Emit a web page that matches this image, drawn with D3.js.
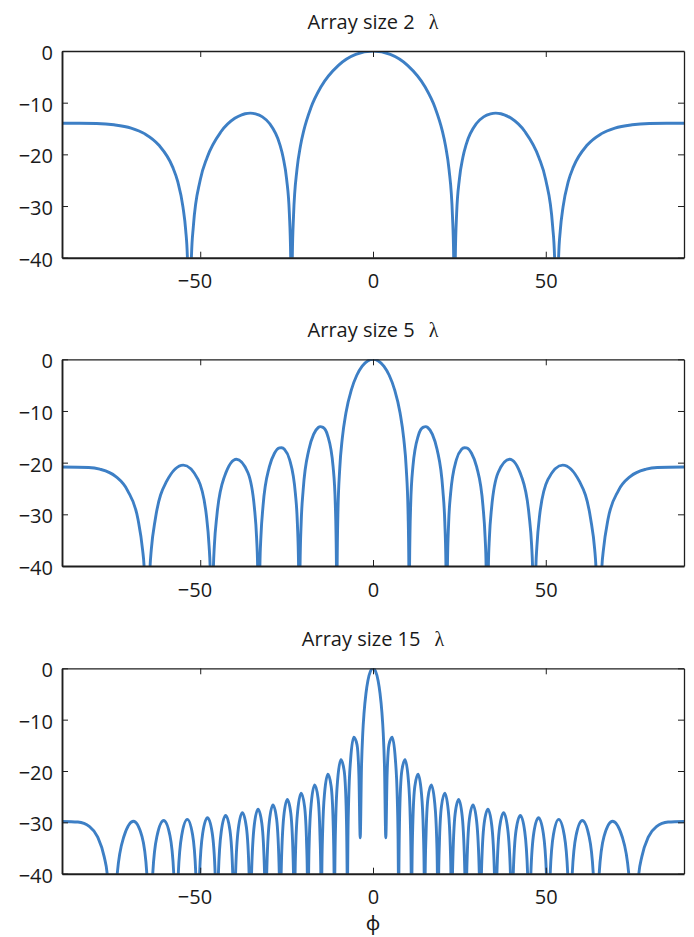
<!DOCTYPE html>
<html><head><meta charset="utf-8">
<script src="https://cdn.jsdelivr.net/npm/d3@7"></script>
<style>body{margin:0;background:#fff} svg{display:block}</style>
</head><body>
<svg id="c" width="694" height="937"></svg>
<script>
// ---------- data ----------
const titles = ["Array size 2", "Array size 5", "Array size 15"];
const titleUnit = "λ";
const xLabel = "ϕ";
const xTicks = [-50, 0, 50];
const yTicks = [0, -10, -20, -30, -40];

// [phi (deg), level (dB)]
const pattern2 = [
[-90,-13.98],[-85,-13.98],[-80,-14.03],[-75,-14.28],[-70,-14.91],[-66,-16.04],[-62,-18.2],[-58,-22.43],[-56.5,-25.28],[-55,-30.16],[-54.2,-34.7],[-53.71,-40],[-53.13,-60],[-52.55,-40],[-52,-34.02],[-50,-24.96],[-48,-20.59],[-44,-15.63],[-40,-13.03],[-38,-12.35],[-37,-12.14],[-35.5,-12.03],[-34,-12.16],[-32,-12.74],[-30,-13.98],[-27,-18.01],[-26,-20.61],[-25,-24.8],[-24.2,-31.5],[-23.82,-40],[-23.58,-60],[-23.35,-40],[-23,-31.95],[-22,-22.91],[-21,-18.39],[-20,-15.31],[-18,-11.03],[-15,-6.88],[-10,-2.78],[-5,-0.66],
[0,0],
[5,-0.66],[10,-2.78],[15,-6.88],[18,-11.03],[20,-15.31],[21,-18.39],[22,-22.91],[23,-31.95],[23.35,-40],[23.58,-60],[23.82,-40],[24.2,-31.5],[25,-24.8],[26,-20.61],[27,-18.01],[30,-13.98],[32,-12.74],[34,-12.16],[35.5,-12.03],[37,-12.14],[38,-12.35],[40,-13.03],[44,-15.63],[48,-20.59],[50,-24.96],[52,-34.02],[52.55,-40],[53.13,-60],[53.71,-40],[54.2,-34.7],[55,-30.16],[56.5,-25.28],[58,-22.43],[62,-18.2],[66,-16.04],[70,-14.91],[75,-14.28],[80,-14.03],[85,-13.98],[90,-13.98]
];

const pattern5 = [
[-90,-20.83],[-82.27,-20.93],[-79.06,-21.26],[-74.51,-22.65],[-71.02,-25.41],[-68.01,-30.97],[-66.68,-36.87],
[-66.25,-40],[-65.38,-60],[-64.51,-40],[-64.16,-36.83],[-62.99,-30.90],[-59.74,-23.64],[-54.90,-20.47],[-50.60,-23.27],[-48.20,-30.31],[-47.43,-36.18],
[-47.14,-40],[-46.66,-60],[-46.17,-40],[-45.91,-36.06],[-45.16,-30.09],[-42.99,-22.70],[-39.52,-19.33],[-36.22,-21.91],[-34.31,-28.80],[-33.68,-34.61],
[-33.39,-40],[-33.06,-60],[-32.73,-40],[-32.44,-34.40],[-31.82,-28.38],[-30.0,-20.83],[-28.51,-18.18],[-27.04,-17.15],[-26.45,-17.11],[-25.58,-17.47],[-24.15,-19.39],[-22.45,-26.06],[-21.88,-31.79],
[-21.54,-40],[-21.32,-60],[-21.11,-40],[-20.77,-31.40],[-20.21,-25.29],[-18.55,-17.45],[-17.19,-14.53],[-15.83,-13.20],[-15.29,-13.03],[-14.48,-13.17],[-13.14,-14.71],[-11.54,-20.83],[-10.90,-28.19],
[-10.58,-40],[-10.48,-60],[-10.37,-40],[-10.16,-30.09],[-9.63,-21.21],[-8.89,-15.31],[-7.84,-10.39],[-6.26,-5.90],[-4.69,-3.09],[-3.13,-1.32],[-1.56,-0.32],
[0,0],
[1.56,-0.32],[3.13,-1.32],[4.69,-3.09],[6.26,-5.90],[7.84,-10.39],[8.89,-15.31],[9.63,-21.21],[10.16,-30.09],[10.37,-40],[10.48,-60],[10.58,-40],
[10.90,-28.19],[11.54,-20.83],[13.14,-14.71],[14.48,-13.17],[15.29,-13.03],[15.83,-13.20],[17.19,-14.53],[18.55,-17.45],[20.21,-25.29],[20.77,-31.40],[21.11,-40],[21.32,-60],[21.54,-40],
[21.88,-31.79],[22.45,-26.06],[24.15,-19.39],[25.58,-17.47],[26.45,-17.11],[27.04,-17.15],[28.51,-18.18],[30.0,-20.83],[31.82,-28.38],[32.44,-34.40],[32.73,-40],[33.06,-60],[33.39,-40],
[33.68,-34.61],[34.31,-28.80],[36.22,-21.91],[39.52,-19.33],[42.99,-22.70],[45.16,-30.09],[45.91,-36.06],[46.17,-40],[46.66,-60],[47.14,-40],
[47.43,-36.18],[48.20,-30.31],[50.60,-23.27],[54.90,-20.47],[59.74,-23.64],[62.99,-30.90],[64.16,-36.83],[64.51,-40],[65.38,-60],[66.25,-40],
[66.68,-36.87],[68.01,-30.97],[71.02,-25.41],[74.51,-22.65],[79.06,-21.26],[82.27,-20.93],[90,-20.83]
];

const pattern15 = [
[-90,-29.83],[-85.40,-29.94],[-82.02,-30.83],[-79.70,-32.83],[-77.80,-36.68],
[-76.93,-40],[-75.41,-60],[-74.01,-40],[-72.11,-32.81],[-69.32,-29.78],[-66.84,-32.77],
[-65.45,-40],[-64.58,-60],[-63.74,-40],[-62.52,-32.70],[-60.57,-29.65],[-58.75,-32.61],
[-57.66,-40],[-57.01,-60],[-56.35,-40],[-55.35,-32.49],[-53.75,-29.42],[-52.22,-32.36],
[-51.28,-40],[-50.73,-60],[-50.18,-40],[-49.30,-32.19],[-47.90,-29.09],[-46.54,-32.01],
[-45.68,-40],[-45.21,-60],[-44.74,-40],[-43.91,-31.79],[-42.64,-28.66],[-41.40,-31.55],
[-40.59,-40],[-40.18,-60],[-39.77,-40],[-38.98,-31.27],[-37.80,-28.11],[-36.64,-30.96],
[-35.86,-40],[-35.50,-60],[-35.14,-40],[-34.37,-30.62],[-33.26,-27.43],[-32.16,-30.25],
[-31.38,-40],[-31.07,-60],[-30.76,-40],[-30.0,-29.83],[-28.94,-26.59],[-27.89,-29.37],
[-27.12,-40],[-26.85,-60],[-26.58,-40],[-25.82,-28.85],[-24.79,-25.56],[-23.78,-28.28],
[-23.00,-40],[-22.78,-60],[-22.55,-40],[-22.37,-34.8],[-21.78,-27.65],[-20.78,-24.30],[-19.80,-26.94],[-19.21,-34.2],
[-19.01,-40],[-18.82,-60],[-18.63,-40],[-18.43,-33.2],[-17.85,-26.15],[-16.88,-22.70],[-15.91,-25.25],[-15.34,-32.6],
[-15.10,-40],[-14.96,-60],[-14.81,-40],[-14.57,-31.74],[-14.00,-24.22],[-13.05,-20.64],[-12.10,-23.03],[-11.54,-29.83],
[-11.27,-40],[-11.16,-60],[-11.05,-40],[-10.78,-29.27],[-10.22,-21.63],[-9.28,-17.81],[-8.35,-19.92],[-7.79,-26.52],
[-7.49,-40],[-7.41,-60],[-7.34,-40],[-7.23,-31.80],[-7.04,-25.66],[-6.48,-17.77],[-5.55,-13.43],[-4.63,-14.87],[-4.07,-20.95],
[-3.70,-33.0],[-3.33,-19.22],[-2.96,-12.61],[-2.59,-8.68],[-2.03,-4.85],[-1.48,-2.42],[-0.74,-0.58],
[0,0],
[0.74,-0.58],[1.48,-2.42],[2.03,-4.85],[2.59,-8.68],[2.96,-12.61],[3.33,-19.22],[3.70,-33.0],
[4.07,-20.95],[4.63,-14.87],[5.55,-13.43],[6.48,-17.77],[7.04,-25.66],[7.23,-31.80],[7.34,-40],[7.41,-60],[7.49,-40],
[7.79,-26.52],[8.35,-19.92],[9.28,-17.81],[10.22,-21.63],[10.78,-29.27],[11.05,-40],[11.16,-60],[11.27,-40],
[11.54,-29.83],[12.10,-23.03],[13.05,-20.64],[14.00,-24.22],[14.57,-31.74],[14.81,-40],[14.96,-60],[15.10,-40],
[15.34,-32.6],[15.91,-25.25],[16.88,-22.70],[17.85,-26.15],[18.43,-33.2],[18.63,-40],[18.82,-60],[19.01,-40],
[19.21,-34.2],[19.80,-26.94],[20.78,-24.30],[21.78,-27.65],[22.37,-34.8],[22.55,-40],[22.78,-60],[23.00,-40],
[23.78,-28.28],[24.79,-25.56],[25.82,-28.85],[26.58,-40],[26.85,-60],[27.12,-40],
[27.89,-29.37],[28.94,-26.59],[30.0,-29.83],[30.76,-40],[31.07,-60],[31.38,-40],
[32.16,-30.25],[33.26,-27.43],[34.37,-30.62],[35.14,-40],[35.50,-60],[35.86,-40],
[36.64,-30.96],[37.80,-28.11],[38.98,-31.27],[39.77,-40],[40.18,-60],[40.59,-40],
[41.40,-31.55],[42.64,-28.66],[43.91,-31.79],[44.74,-40],[45.21,-60],[45.68,-40],
[46.54,-32.01],[47.90,-29.09],[49.30,-32.19],[50.18,-40],[50.73,-60],[51.28,-40],
[52.22,-32.36],[53.75,-29.42],[55.35,-32.49],[56.35,-40],[57.01,-60],[57.66,-40],
[58.75,-32.61],[60.57,-29.65],[62.52,-32.70],[63.74,-40],[64.58,-60],[65.45,-40],
[66.84,-32.77],[69.32,-29.78],[72.11,-32.81],[74.01,-40],[75.41,-60],[76.93,-40],
[77.80,-36.68],[79.70,-32.83],[82.02,-30.83],[85.40,-29.94],[90,-29.83]
];

const patterns = [pattern2, pattern5, pattern15];

// ---------- layout ----------
const FONT = "'Open Sans', 'Noto Sans', sans-serif";
const FS = 20;
const lineColor = "#3d7fc5";
const axisColor = "#1e1e1e";
const plotLeft = 62, plotRight = 684;
const frames = [[51, 257.7], [359.3, 566], [668.3, 873.7]];

const svg = d3.select("#c");
const x = d3.scaleLinear().domain([-90, 90]).range([plotLeft, plotRight]);

// measure minus width (x tick labels keep digits centred on the tick)
const tmp = svg.append("text").attr("font-family", FONT).attr("font-size", FS).text("\u2212");
const minusW = tmp.node().getComputedTextLength();
tmp.remove();

patterns.forEach((data, i) => {
  const [top, bottom] = frames[i];
  const y = d3.scaleLinear().domain([-40, 0]).range([bottom, top]);

  const clipId = "clip" + i;
  svg.append("clipPath").attr("id", clipId)
    .append("rect").attr("x", plotLeft).attr("y", top)
    .attr("width", plotRight - plotLeft).attr("height", bottom - top);

  const line = d3.line().x(d => x(d[0])).y(d => y(d[1])).curve(d3.curveMonotoneX);
  svg.append("path").datum(data)
    .attr("clip-path", `url(#${clipId})`)
    .attr("fill", "none").attr("stroke", lineColor)
    .attr("stroke-width", 2.9).attr("stroke-linejoin", "round")
    .attr("d", line);

  // axes
  const gB = svg.append("g").attr("transform", `translate(0,${bottom})`)
    .call(d3.axisBottom(x).tickValues(xTicks).tickSizeInner(-6).tickSizeOuter(0));
  const gT = svg.append("g").attr("transform", `translate(0,${top})`)
    .call(d3.axisTop(x).tickValues(xTicks).tickSizeInner(-6).tickSizeOuter(0).tickFormat(""));
  const gL = svg.append("g").attr("transform", `translate(${plotLeft},0)`)
    .call(d3.axisLeft(y).tickValues(yTicks).tickSizeInner(-6).tickSizeOuter(0));
  const gR = svg.append("g").attr("transform", `translate(${plotRight},0)`)
    .call(d3.axisRight(y).tickValues(yTicks).tickSizeInner(-6).tickSizeOuter(0).tickFormat(""));

  [gB, gL].forEach(g => g.select(".domain").attr("stroke", axisColor).attr("stroke-width", 1.9));
  [gT, gR].forEach(g => g.select(".domain").attr("stroke", axisColor).attr("stroke-width", 1.3));
  [gB, gT, gL, gR].forEach(g => g.selectAll(".tick line").attr("stroke", axisColor).attr("stroke-width", 1));

  gB.selectAll("text")
    .attr("font-family", FONT).attr("font-size", FS).attr("fill", "#1a1a1a")
    .attr("y", 30.5).attr("dy", 0)
    .attr("x", d => d < 0 ? -minusW / 2 : 0);
  gL.selectAll("text")
    .attr("font-family", FONT).attr("font-size", FS).attr("fill", "#1a1a1a")
    .attr("x", -9).attr("dy", 0).attr("y", 8.5);

  // title
  const t = svg.append("text")
    .attr("x", (plotLeft + plotRight) / 2).attr("y", top - 22.3)
    .attr("text-anchor", "middle")
    .attr("font-family", FONT).attr("font-size", FS).attr("fill", "#1a1a1a");
  t.append("tspan").text(titles[i]);
  t.append("tspan").attr("dx", 14).attr("font-family", "'Liberation Serif', serif").text(titleUnit);
});

svg.append("text")
  .attr("x", x(0)).attr("y", 930)
  .attr("text-anchor", "middle")
  .attr("font-family", FONT).attr("font-size", FS).attr("fill", "#1a1a1a")
  .text(xLabel);
</script>
</body></html>
